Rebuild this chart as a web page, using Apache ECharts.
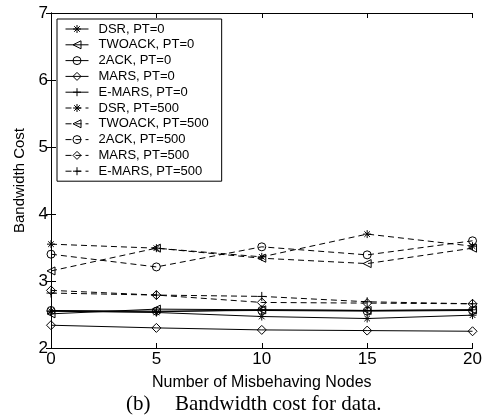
<!DOCTYPE html>
<html>
<head>
<meta charset="utf-8">
<script src="https://cdn.jsdelivr.net/npm/echarts@6/dist/echarts.min.js"></script>
<style>html,body{margin:0;padding:0;background:#fff;}#c{width:485px;height:419px;}</style>
</head>
<body>
<div id="c"></div>
<script>
const xValues = [0, 5, 10, 15, 20];
const seriesNames = ['DSR, PT=0','TWOACK, PT=0','2ACK, PT=0','MARS, PT=0','E-MARS, PT=0',
  'DSR, PT=500','TWOACK, PT=500','2ACK, PT=500','MARS, PT=500','E-MARS, PT=500'];
const dsr0    = [2.55, 2.53, 2.47, 2.44, 2.49];
const twoack0 = [2.51, 2.58, 2.57, 2.56, 2.57];
const ack2_0  = [2.56, 2.55, 2.56, 2.55, 2.56];
const mars0   = [2.34, 2.30, 2.27, 2.26, 2.25];
const emars0  = [2.55, 2.54, 2.57, 2.56, 2.57];
const dsr500    = [3.55, 3.49, 3.36, 3.70, 3.52];
const twoack500 = [3.15, 3.49, 3.34, 3.26, 3.49];
const ack2_500  = [3.40, 3.21, 3.51, 3.39, 3.60];
const mars500   = [2.86, 2.79, 2.68, 2.67, 2.66];
const emars500  = [2.82, 2.79, 2.77, 2.69, 2.66];
const xTicks = [0, 5, 10, 15, 20];
const yTicks = [2, 3, 4, 5, 6, 7];

const SYM = {
  star: 'path://M5,0L5,10M0,5L10,5M1.5,1.5L8.5,8.5M8.5,1.5L1.5,8.5',
  tri: 'path://M0,5L10,0L10,10Z',
  circ: 'path://M10,5A5,5 0 1,1 0,5A5,5 0 1,1 10,5Z',
  diam: 'path://M5,0L10,5L5,10L0,5Z',
  plus: 'path://M5,0L5,10M0,5L10,5'
};
const values = [dsr0, twoack0, ack2_0, mars0, emars0, dsr500, twoack500, ack2_500, mars500, emars500];
const syms = ['star','tri','circ','diam','plus','star','tri','circ','diam','plus'];
const sizes = {star: 8, tri: 8, circ: 8, diam: 9, plus: 9};

const series = values.map((v, i) => ({
  name: seriesNames[i],
  type: 'line',
  data: v.map((y, j) => [xValues[j], y]),
  symbol: SYM[syms[i]],
  symbolSize: sizes[syms[i]],
  showAllSymbol: true,
  animation: false,
  lineStyle: {color: '#000', width: 1, type: i >= 5 ? [6, 4] : 'solid'},
  itemStyle: {color: 'rgba(0,0,0,0)', borderColor: '#000', borderWidth: 1},
  emphasis: {disabled: true}
}));

const font = 'Liberation Sans, Arial, Helvetica, sans-serif';
const chart = echarts.init(document.getElementById('c'));
chart.setOption({
  animation: false,
  backgroundColor: '#fff',
  grid: {left: 51, right: 9, top: 13, bottom: 71, show: false},
  legend: {
    orient: 'vertical', left: 57, top: 19,
    padding: [3.5, 13, 3.5, 8],
    itemWidth: 23, itemHeight: 10, itemGap: 2.8,
    borderColor: '#000', borderWidth: 1, backgroundColor: '#fff',
    data: seriesNames,
    lineStyle: {width: 1, color: '#000'},
    itemStyle: {color: 'rgba(0,0,0,0)', borderColor: '#000', borderWidth: 1},
    textStyle: {fontFamily: font, fontSize: 13, color: '#000', padding: [0, 0, 0, 5]}
  },
  xAxis: [{
    type: 'value', min: 0, max: 20, interval: 5, position: 'bottom',
    name: 'Number of Misbehaving Nodes', nameLocation: 'middle', nameGap: 27,
    nameTextStyle: {fontFamily: font, fontSize: 16, color: '#000'},
    axisLine: {lineStyle: {color: '#000', width: 1}},
    axisTick: {inside: true, length: 5, lineStyle: {color: '#000'}},
    axisLabel: {fontFamily: font, fontSize: 17, color: '#000', margin: 3,
      formatter: v => xTicks.includes(v) ? String(v) : ''},
    splitLine: {show: false}
  }, {
    type: 'value', min: 0, max: 20, interval: 5, position: 'top',
    axisLine: {lineStyle: {color: '#000', width: 1}},
    axisTick: {inside: true, length: 5, lineStyle: {color: '#000'}},
    axisLabel: {show: false}, splitLine: {show: false}
  }],
  yAxis: [{
    type: 'value', min: 2, max: 7, interval: 1, position: 'left',
    name: 'Bandwidth Cost', nameLocation: 'middle', nameGap: 21,
    nameTextStyle: {fontFamily: font, fontSize: 15, color: '#000'},
    axisLine: {show: true, lineStyle: {color: '#000', width: 1}},
    axisTick: {show: true, inside: true, length: 5, lineStyle: {color: '#000'}},
    axisLabel: {fontFamily: font, fontSize: 17, color: '#000', margin: 3,
      formatter: v => yTicks.includes(v) ? String(v) : ''},
    splitLine: {show: false}
  }, {
    type: 'value', min: 2, max: 7, interval: 1, position: 'right',
    axisLine: {show: true, lineStyle: {color: '#000', width: 1}},
    axisTick: {show: true, inside: true, length: 5, lineStyle: {color: '#000'}},
    axisLabel: {show: false}, splitLine: {show: false}
  }],
  graphic: [
    {type: 'text', left: 126, top: 394, style: {text: '(b)', font: '21px "Liberation Serif", "Times New Roman", serif', fill: '#000'}},
    {type: 'text', left: 175, top: 394, style: {text: 'Bandwidth cost for data.', font: '21px "Liberation Serif", "Times New Roman", serif', fill: '#000'}}
  ],
  series: series
});
</script>
</body>
</html>
